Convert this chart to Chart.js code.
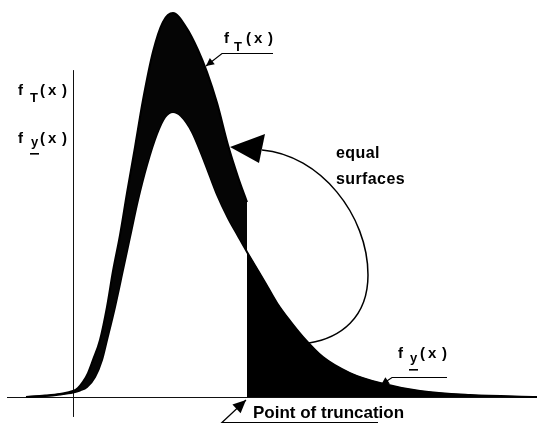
<!DOCTYPE html>
<html>
<head>
<meta charset="utf-8">
<script src="https://cdn.jsdelivr.net/npm/chart.js@4/dist/chart.umd.min.js"></script>
<style>
  body { margin: 0; background: #fff; }
</style>
</head>
<body>
<canvas id="myChart" width="544" height="426"></canvas>
<script>
// original density f_y(x): x positions and values (y-axis sits at x = 0, peak = 100)
var fyX = [-4.7, -2.8, -1.3, 0, 0.7, 1.4, 2.2, 2.9, 3.4, 4.2, 5.0, 5.7, 6.5, 7.4, 8.4, 9.2, 10.0, 10.8, 11.9, 13.2, 14.4, 15.5, 16.5, 17.4, 18.5, 19.5, 20.4, 21.7, 23.0, 25.0, 27.7, 30.7, 34.7, 39.7, 46.4];
var fyV = [0, 0.35, 0.9, 1.6, 2.3, 3.5, 7.0, 13.0, 20.0, 31.6, 44.6, 56.1, 69.1, 81.4, 92.3, 98.2, 100, 98.6, 93.0, 82.0, 71.0, 62.8, 56.5, 50.9, 44.4, 38.4, 33.0, 26.7, 21.1, 14.0, 8.4, 4.9, 2.1, 0.7, 0];
// truncated density f_T(x), up to the point of truncation
var fTX = [-4.7, -2.8, -1.3, 0, 0.5, 1.0, 1.5, 2.0, 2.7, 3.4, 4.0, 4.7, 5.4, 6.2, 7.0, 8.0, 9.0, 10.0, 11.3, 12.5, 13.4, 14.4, 15.5, 16.5, 17.4];
var fTV = [0, 0.5, 1.1, 2.1, 3.2, 5.3, 8.4, 13.0, 20.0, 31.6, 44.2, 56.8, 71.6, 87.7, 104.2, 121.1, 131.6, 134.7, 129.8, 121.8, 114.0, 103.2, 88.4, 77.2, 68.4];
var truncX = 17.4;

// extents of the two axis lines
var xAxisSpan = [-6.6, 46.4];
var yAxisSpan = [-7.0, 114.7];

function toPoints(xs, vals) {
    return vals.map(function (v, i) { return { x: xs[i], y: v }; });
}
var fyPts = toPoints(fyX, fyV);
var fTPts = toPoints(fTX, fTV);
var tailPts = fyPts.filter(function (p) { return p.x >= truncX; });

var FONT = '"Liberation Sans", Arial, sans-serif';

function arrowHead(ctx, fx, fy0, tx, ty, len, half) {
    var a = Math.atan2(ty - fy0, tx - fx);
    ctx.beginPath();
    ctx.moveTo(tx, ty);
    ctx.lineTo(tx - len * Math.cos(a) + half * Math.sin(a), ty - len * Math.sin(a) - half * Math.cos(a));
    ctx.lineTo(tx - len * Math.cos(a) - half * Math.sin(a), ty - len * Math.sin(a) + half * Math.cos(a));
    ctx.closePath();
    ctx.fill();
}

// leader: horizontal rule, then a slanted line ending in an arrow
function leader(ctx, x1, x2, y, tx, ty, len, half) {
    ctx.beginPath();
    ctx.moveTo(x2, y);
    ctx.lineTo(x1, y);
    ctx.lineTo(tx, ty);
    ctx.stroke();
    arrowHead(ctx, x1, y, tx, ty, len, half);
}

// "f", subscript, "(x)"
function fLabel(ctx, x, base, sub, subDx, subDy, underline) {
    ctx.font = 'bold 15px ' + FONT;
    ctx.fillText('f', x, base);
    ctx.fillText('(', x + 22, base);
    ctx.fillText('x', x + 30, base);
    ctx.fillText(')', x + 44, base);
    ctx.font = 'bold 13px ' + FONT;
    ctx.fillText(sub, x + subDx, base + subDy);
    if (underline) {
        ctx.fillRect(x + subDx - 1, base + subDy + 7, 9, 1.6);
    }
}

var decor = {
    id: 'decor',
    beforeDatasetsDraw: function (chart) {
        var ctx = chart.ctx, sx = chart.scales.x, sy = chart.scales.y;
        var y0 = Math.round(sy.getPixelForValue(0)) + 0.5;
        var x0 = Math.round(sx.getPixelForValue(0)) + 0.5;
        ctx.save();
        ctx.strokeStyle = '#111';
        ctx.lineWidth = 1;
        ctx.beginPath();
        ctx.moveTo(sx.getPixelForValue(xAxisSpan[0]), y0);
        ctx.lineTo(sx.getPixelForValue(xAxisSpan[1]), y0);
        ctx.moveTo(x0, sy.getPixelForValue(yAxisSpan[0]));
        ctx.lineTo(x0, sy.getPixelForValue(yAxisSpan[1]));
        ctx.stroke();
        ctx.restore();
    },
    afterDraw: function (chart) {
        var ctx = chart.ctx;
        ctx.save();
        ctx.fillStyle = '#000';
        ctx.strokeStyle = '#000';
        ctx.lineWidth = 1.2;
        ctx.textBaseline = 'alphabetic';

        // axis labels on the left
        fLabel(ctx, 18, 95, 'T', 12, 7, false);
        fLabel(ctx, 18, 143, 'y', 13, 3, true);

        // curve labels with leaders
        fLabel(ctx, 224, 43, 'T', 10, 8, false);
        leader(ctx, 222, 273, 53.5, 206, 66, 8, 4);
        fLabel(ctx, 398, 358, 'y', 12, 4, true);
        leader(ctx, 392, 447, 377.5, 381, 385, 8, 4);

        // point of truncation
        ctx.font = 'bold 17px ' + FONT;
        ctx.fillText('Point of truncation', 253, 418);
        leader(ctx, 222, 378, 422.5, 246, 400, 13, 6);

        // equal surfaces
        ctx.font = 'bold 16px ' + FONT;
        ctx.letterSpacing = '0.4px';
        ctx.fillText('equal', 336, 158);
        ctx.fillText('surfaces', 336, 184);
        ctx.letterSpacing = '0px';

        // curved arrow from the tail area to the band
        ctx.lineWidth = 1.5;
        ctx.beginPath();
        ctx.moveTo(309, 343);
        ctx.bezierCurveTo(340, 338, 368, 318, 368, 275);
        ctx.bezierCurveTo(368, 215, 320, 155, 262, 150);
        ctx.stroke();
        ctx.beginPath();
        ctx.moveTo(230, 147);
        ctx.lineTo(265, 134);
        ctx.lineTo(259, 163);
        ctx.closePath();
        ctx.fill();
        ctx.restore();
    }
};

var chart1 = document.getElementById('myChart');
var myChart = new Chart(chart1, {
    type: 'line',
    data: {
        datasets: [{
            label: 'f_T(x)',
            data: fTPts,
            borderColor: '#000',
            backgroundColor: '#050505',
            borderWidth: 2,
            pointRadius: 0,
            cubicInterpolationMode: 'monotone',
            fill: { target: 1 }
        }, {
            label: 'f_y(x)',
            data: fyPts,
            borderColor: '#000',
            borderWidth: 2,
            pointRadius: 0,
            cubicInterpolationMode: 'monotone',
            fill: false
        }, {
            label: 'tail',
            data: tailPts,
            borderColor: '#000',
            backgroundColor: '#000',
            borderWidth: 1,
            pointRadius: 0,
            cubicInterpolationMode: 'monotone',
            fill: 'origin'
        }]
    },
    options: {
        responsive: false,
        animation: false,
        layout: { padding: 0 },
        plugins: {
            legend: { display: false },
            tooltip: { enabled: false }
        },
        scales: {
            x: { type: 'linear', min: -7.3, max: 47.1, display: false },
            y: { min: -10.175, max: 139.3, display: false }
        }
    },
    plugins: [decor]
});
</script>
</body>
</html>
